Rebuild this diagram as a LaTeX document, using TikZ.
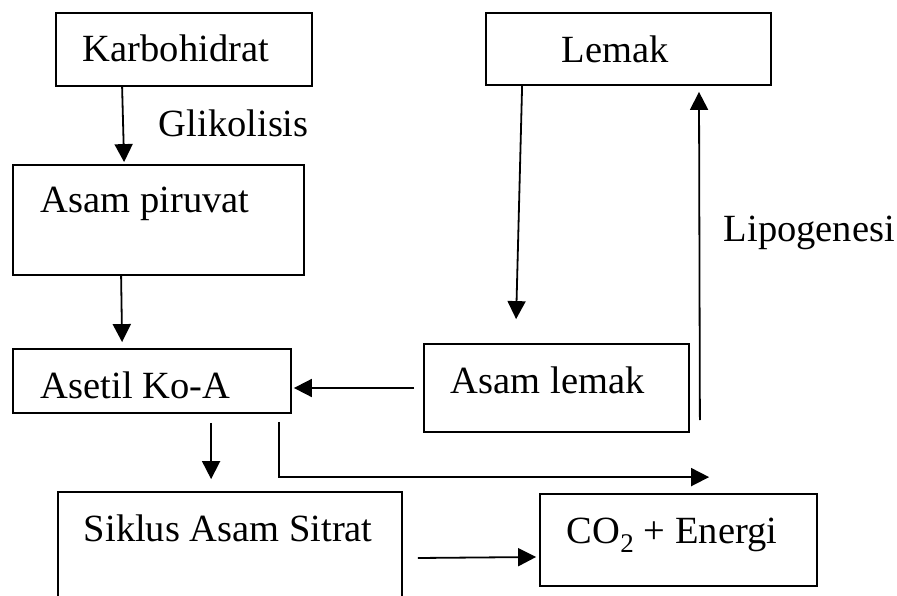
\documentclass[tikz,border=0pt]{standalone}
\usepackage{fontspec}
\setmainfont{Liberation Serif}
\usepackage{tikz}
\usetikzlibrary{arrows.meta}

\begin{document}
\begin{tikzpicture}[x=1pt,y=-1pt,line width=1.8pt,
	font=\fontsize{38.5}{46}\selectfont,
	box/.style={draw,rectangle,inner sep=0pt},
	lbl/.style={anchor=base west,inner sep=0pt},
	arr/.style={-{Triangle[length=18pt,width=18pt]}}]
	\useasboundingbox (0,0) rectangle (897,596);
	\clip (0,0) rectangle (897,596);

	\node[box,minimum width=256pt,minimum height=73pt] (karbo) at (184,49.5) {};
	\node[box,minimum width=285pt,minimum height=72pt] (lemak) at (628.5,49) {};
	\node[box,minimum width=291pt,minimum height=110pt] (piruvat) at (158.5,220) {};
	\node[box,minimum width=278pt,minimum height=64pt] (asetil) at (152,381) {};
	\node[box,minimum width=265pt,minimum height=88pt] (asamlemak) at (556.5,388) {};
	\node[box,minimum width=344pt,minimum height=148pt] (siklus) at (230,566) {};
	\node[box,minimum width=277pt,minimum height=92pt] (co2) at (678.5,540) {};

	\node[lbl] (tkarbo) at (82,62) {Karbohidrat};
	\node[lbl] (tglik) at (158,137) {Glikolisis};
	\node[lbl] (tpiruvat) at (40,213) {Asam piruvat};
	\node[lbl] (tasetil) at (40,398) {Asetil Ko-A};
	\node[lbl] (tasamlemak) at (450,393) {Asam lemak};
	\node[lbl] (tlemak) at (561,63) {Lemak};
	\node[lbl] (tlipo) at (723,242) {Lipogenesi};
	\node[lbl] (tsiklus) at (83,541) {Siklus Asam Sitrat};
	\node[lbl] (tco2) at (566,543) {CO\textsubscript{2} + Energi};

	\draw[arr] ([xshift=67pt]karbo.south west) -- ([xshift=112pt,yshift=2pt]piruvat.north west);
	\draw[arr] ([xshift=109pt]piruvat.south west) -- ([xshift=110pt,yshift=6pt]asetil.north west);
	\draw[arr] ([xshift=-9pt]asamlemak.west) -- ([xshift=2pt]asamlemak.west -| asetil.east);
	\draw[arr] ([xshift=37pt]lemak.south west) -- ([xshift=93pt,yshift=24pt]asamlemak.north west);
	\draw[arr] ([xshift=10pt,yshift=-32pt]asamlemak.east) -- ([xshift=70.5pt,yshift=-6pt]lemak.south);
	\draw[arr] ([xshift=199pt,yshift=-9pt]asetil.south west) -- ([xshift=154pt,yshift=12pt]siklus.north west);
	\draw[arr] ([xshift=267pt,yshift=-8pt]asetil.south west) |- ([xshift=170pt,yshift=16pt]co2.north west);
	\draw[arr] ([xshift=15pt,yshift=8pt]siklus.east) -- ([xshift=-3pt,yshift=-17pt]co2.west);
\end{tikzpicture}
\end{document}
